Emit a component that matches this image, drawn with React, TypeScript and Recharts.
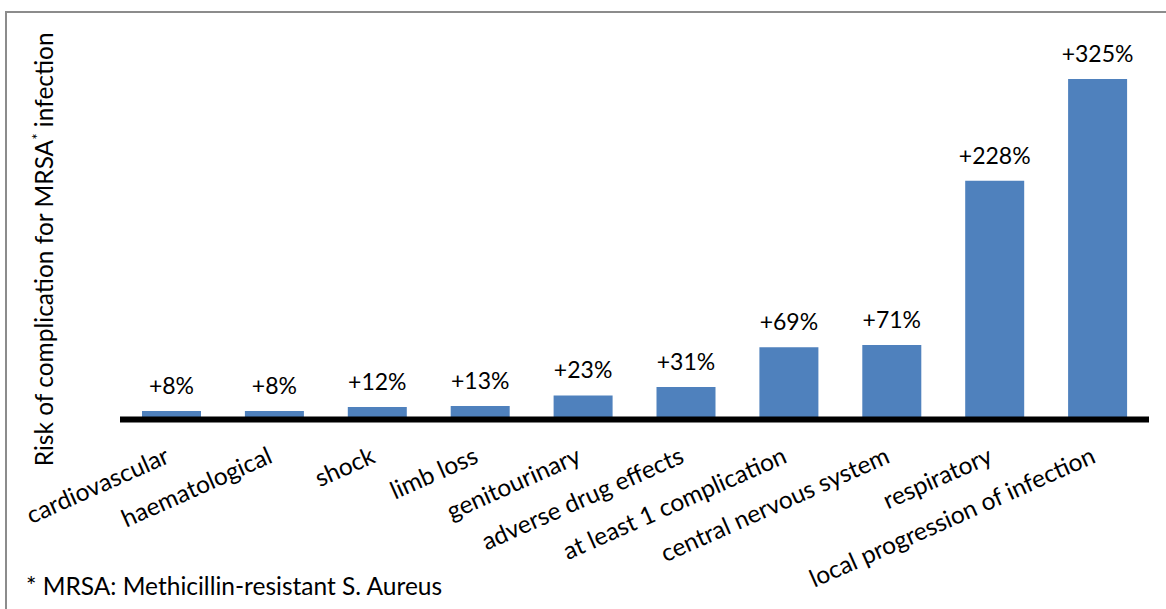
import React from 'react';
import { BarChart, Bar, XAxis, YAxis, LabelList } from 'recharts';

// Complication categories, in plotted order
const categories = [
  'cardiovascular',
  'haematological',
  'shock',
  'limb loss',
  'genitourinary',
  'adverse drug effects',
  'at least 1 complication',
  'central nervous system',
  'respiratory',
  'local progression of infection',
];

// Increase in complication risk (%) for MRSA infection
const riskIncrease = [8, 8, 12, 13, 23, 31, 69, 71, 228, 325];

const yDomain: [number, number] = [0, 325];

const data = categories.map((name, i) => ({ name, risk: riskIncrease[i] }));

const FONT = 'Lato, Carlito, "Open Sans", sans-serif';
const BAR_BLUE = '#4F81BD';
const TEXT_SIZE = 24.5;
const VALUE_SIZE = 23;

const WIDTH = 1166;
const HEIGHT = 609;
const PLOT_TOP = 79;
const PLOT_BOTTOM = 419.5;

const CategoryTick = (props: any) => {
  const { x, y, payload } = props;
  return (
    <g transform={`translate(${x - 0.5},${y + 42.5}) rotate(-24)`}>
      <text x={0} y={0} textAnchor="end" fontFamily={FONT} fontSize={TEXT_SIZE} fill="#000">
        {payload.value}
      </text>
    </g>
  );
};

const AxisTitle = (props: any) => {
  const vb = props.viewBox || {};
  const cy = (vb.y ?? PLOT_TOP) + (vb.height ?? PLOT_BOTTOM - PLOT_TOP) / 2;
  const bx = 53;
  return (
    <text
      x={bx}
      y={cy}
      transform={`rotate(-90, ${bx}, ${cy})`}
      textAnchor="middle"
      fontFamily={FONT}
      fontSize={TEXT_SIZE}
      fill="#000"
    >
      <tspan>Risk of complication for MRSA</tspan>
      <tspan fontSize={15} dy={-10}>*</tspan>
      <tspan dy={10}> infection</tspan>
    </text>
  );
};

export default function App() {
  return (
    <div style={{ position: 'absolute', left: 0, top: 0, width: WIDTH, height: HEIGHT, background: '#fff' }}>
      <BarChart
        width={WIDTH}
        height={HEIGHT}
        data={data}
        margin={{ top: PLOT_TOP, right: 17, bottom: 0, left: 0 }}
      >
        <YAxis
          type="number"
          domain={yDomain}
          allowDataOverflow
          width={120}
          tick={false}
          tickLine={false}
          axisLine={false}
          label={<AxisTitle />}
        />
        <Bar dataKey="risk" fill={BAR_BLUE} barSize={59} isAnimationActive={false}>
          <LabelList
            dataKey="risk"
            position="top"
            offset={17}
            formatter={(v: any) => `+${v}%`}
            fill="#000"
            fontSize={VALUE_SIZE}
            fontFamily={FONT}
          />
        </Bar>
        <XAxis
          dataKey="name"
          height={HEIGHT - PLOT_BOTTOM}
          interval={0}
          tickSize={0}
          tickMargin={0}
          tickLine={false}
          axisLine={{ stroke: '#000', strokeWidth: 6 }}
          tick={<CategoryTick />}
        />
      </BarChart>
      <svg
        width={WIDTH}
        height={HEIGHT}
        style={{ position: 'absolute', left: 0, top: 0, pointerEvents: 'none' }}
      >
        <path d={`M 6 ${HEIGHT} V 12 H ${WIDTH}`} fill="none" stroke="#8c8c8c" strokeWidth={2} />
        <text x={26} y={595} fontFamily={FONT} fontSize={TEXT_SIZE} fill="#000">
          * MRSA: Methicillin-resistant S. Aureus
        </text>
      </svg>
    </div>
  );
}
